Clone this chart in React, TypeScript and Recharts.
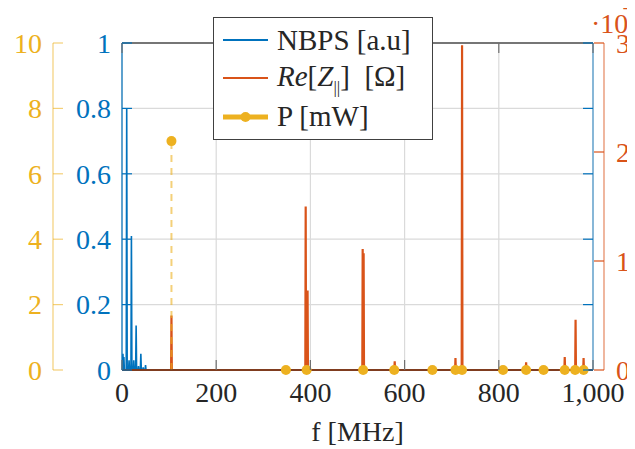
import { ComposedChart, Line, XAxis, YAxis, CartesianGrid, ReferenceLine, Legend } from "recharts";

const FONT = "Liberation Serif, DejaVu Serif, serif";
const BLUE = "#0072BD";
const ORANGE = "#D95319";
const YELLOW = "#EDB120";
const TEXT = "#262626";
const FS = 28;

const freqTicks = [0, 200, 400, 600, 800, 1000];
const nbpsTicks = [0, 0.2, 0.4, 0.6, 0.8, 1];
const powerTicks = [0, 2, 4, 6, 8, 10];
const impTicks = [0, 10000, 20000, 30000];

// NBPS spectrum lines [MHz] / [a.u]
const nbpsFreq = [2, 4, 10, 15, 20, 25, 30, 35, 40, 45, 50];
const nbpsVal = [0.05, 0.04, 0.8, 0.03, 0.41, 0.03, 0.136, 0.012, 0.05, 0.008, 0.015];

// Re[Z||] resonances [MHz] / [Ohm]
const zFreq = [105, 390, 394, 511, 513, 579, 708, 722, 858, 940, 963, 980];
const zVal = [5000, 15000, 7300, 11100, 10700, 800, 1100, 29800, 700, 1200, 4600, 1100];

// power loss [MHz] / [mW]
const pFreq = [105, 348, 392, 512, 578, 659, 708, 722, 809, 858, 895, 940, 962, 980];
const pVal = [7, 0, 0, 0, 0, 0, 0, 0, 0, 0, 0, 0, 0, 0];

function spikes(freqs: number[], vals: number[], hw: number) {
  const pts = [{ f: 0, v: 0 }];
  freqs.forEach((f, i) => {
    pts.push({ f: f - hw, v: 0 }, { f, v: vals[i] }, { f: f + hw, v: 0 });
  });
  pts.push({ f: 1000, v: 0 });
  return pts;
}

const nbpsData = spikes(nbpsFreq, nbpsVal, 1);
const zData = spikes(zFreq, zVal, 0.8);
const pData = pFreq.map((f, i) => ({ f, v: pVal[i] }));

const yTick =
  (side: "left" | "right", margin: number, color: string, lineColor: string, fmt: ((v: number) => string) | null) =>
  (props: any) => {
    const { x, y, payload } = props;
    const axisX = side === "left" ? x + margin : x - margin;
    const dir = side === "left" ? 1 : -1;
    return (
      <g>
        <line x1={axisX} x2={axisX + dir * 10} y1={y} y2={y} stroke={lineColor} strokeWidth={1.2} />
        {fmt && (
          <text x={x} y={y} dy="0.35em" textAnchor={side === "left" ? "end" : "start"} fill={color} fontSize={FS} fontFamily={FONT}>
            {fmt(payload.value)}
          </text>
        )}
      </g>
    );
  };

const xTick = (pos: "bottom" | "top", margin: number) => (props: any) => {
  const { x, y, payload } = props;
  const axisY = pos === "bottom" ? y - margin : y + margin;
  const dir = pos === "bottom" ? -1 : 1;
  return (
    <g>
      <line x1={x} x2={x} y1={axisY} y2={axisY + dir * 10} stroke="#707070" strokeWidth={1.2} />
      {pos === "bottom" && (
        <text x={x} y={y} dy="0.71em" textAnchor="middle" fill={TEXT} fontSize={FS} fontFamily={FONT}>
          {payload.value.toLocaleString("en-US")}
        </text>
      )}
    </g>
  );
};

const tenPow = (props: any) => {
  const { viewBox } = props;
  return (
    <text x={viewBox.x - 13} y={viewBox.y - 10} fill={ORANGE} fontSize={FS} fontFamily={FONT}>
      ·10
      <tspan x={viewBox.x + 19} y={viewBox.y - 31} fontSize={19}>4</tspan>
    </text>
  );
};

const LegendBox = () => {
  const row = { display: "flex", alignItems: "center", height: 38.3 } as const;
  return (
    <div
      style={{
        width: 220,
        height: 123,
        boxSizing: "border-box",
        border: "1.5px solid #404040",
        background: "#fff",
        fontFamily: FONT,
        fontSize: 29,
        color: TEXT,
        padding: "3px 0 0 9px",
        lineHeight: 1,
        whiteSpace: "nowrap",
      }}
    >
      <div style={row}>
        <svg width={45} height={12}><line x1={0} x2={45} y1={6} y2={6} stroke={BLUE} strokeWidth={2} /></svg>
        <span style={{ marginLeft: 9 }}>NBPS [a.u]</span>
      </div>
      <div style={row}>
        <svg width={45} height={12}><line x1={0} x2={45} y1={6} y2={6} stroke={ORANGE} strokeWidth={2} /></svg>
        <span style={{ marginLeft: 9 }}>
          <i>Re</i>[<i>Z</i><sub style={{ fontSize: 17 }}>||</sub>] &nbsp;[Ω]
        </span>
      </div>
      <div style={row}>
        <svg width={45} height={14}>
          <line x1={0} x2={45} y1={7} y2={7} stroke={YELLOW} strokeWidth={5} />
          <circle cx={22.5} cy={7} r={5} fill={YELLOW} />
        </svg>
        <span style={{ marginLeft: 9 }}>P [mW]</span>
      </div>
    </div>
  );
};

export default function App() {
  return (
    <div style={{ margin: "-8px 0 0 -8px", width: 635, height: 449, background: "#fff" }}>
      <ComposedChart width={635} height={449} margin={{ top: 42, right: 0, bottom: 0, left: 0 }}>
        <CartesianGrid yAxisId="n" stroke="#dadada" strokeWidth={1.2} />
        <XAxis
          dataKey="f"
          type="number"
          domain={[0, 1000]}
          ticks={freqTicks}
          interval={0}
          height={79}
          tickSize={0}
          tickMargin={12}
          tickLine={false}
          tick={xTick("bottom", 12)}
          axisLine={{ stroke: TEXT }}
          label={{ value: "f [MHz]", position: "insideBottom", offset: 8, fill: TEXT, fontSize: FS, fontFamily: FONT }}
        />
        <XAxis
          xAxisId="top"
          orientation="top"
          dataKey="f"
          type="number"
          domain={[0, 1000]}
          allowDataOverflow
          ticks={freqTicks}
          interval={0}
          height={1}
          tickSize={0}
          tickMargin={0}
          tickLine={false}
          tick={xTick("top", 0)}
          axisLine={{ stroke: "#000" }}
        />
        <YAxis
          yAxisId="n"
          width={69}
          type="number"
          domain={[0, 1]}
          ticks={nbpsTicks}
          interval={0}
          tickSize={0}
          tickMargin={11}
          tickLine={false}
          tick={yTick("left", 11, BLUE, BLUE, (v) => String(v))}
          axisLine={{ stroke: BLUE, strokeWidth: 1.2 }}
        />
        <YAxis
          yAxisId="p"
          width={53}
          type="number"
          domain={[0, 10]}
          ticks={powerTicks}
          interval={0}
          tickSize={0}
          tickMargin={11}
          tickLine={false}
          tick={yTick("left", 11, YELLOW, "rgba(237,177,32,0.6)", (v) => String(v))}
          axisLine={{ stroke: YELLOW, strokeOpacity: 0.6, strokeWidth: 1.2 }}
        />
        <YAxis
          yAxisId="nr"
          orientation="right"
          width={11}
          type="number"
          domain={[0, 1]}
          allowDataOverflow
          ticks={nbpsTicks}
          interval={0}
          tickSize={0}
          tickMargin={0}
          tickLine={false}
          tick={yTick("right", 0, BLUE, BLUE, null)}
          axisLine={{ stroke: BLUE, strokeOpacity: 0.7, strokeWidth: 1.2 }}
        />
        <YAxis
          yAxisId="z"
          orientation="right"
          width={31}
          type="number"
          domain={[0, 30000]}
          ticks={impTicks}
          interval={0}
          tickSize={0}
          tickMargin={12}
          tickLine={false}
          tick={yTick("right", 12, ORANGE, ORANGE, (v) => String(v / 10000))}
          axisLine={{ stroke: ORANGE, strokeOpacity: 0.7, strokeWidth: 1.2 }}
          label={{ content: tenPow }}
        />
        <Line yAxisId="n" data={nbpsData} dataKey="v" stroke={BLUE} strokeWidth={1.6} dot={false} isAnimationActive={false} />
        <Line yAxisId="z" data={zData} dataKey="v" stroke={ORANGE} strokeWidth={2.2} dot={false} isAnimationActive={false} />
        {pData
          .filter((d) => d.v > 0)
          .map((d) => (
            <ReferenceLine
              key={d.f}
              yAxisId="p"
              segment={[{ x: d.f, y: 0 }, { x: d.f, y: d.v }]}
              stroke={YELLOW}
              strokeOpacity={0.6}
              strokeWidth={2}
              strokeDasharray="7 6"
            />
          ))}
        <Line
          yAxisId="p"
          data={pData}
          dataKey="v"
          stroke="none"
          dot={{ r: 5, fill: YELLOW, stroke: "none" }}
          isAnimationActive={false}
        />
        <Legend
          content={LegendBox}
          layout="horizontal"
          verticalAlign="middle"
          align="center"
          wrapperStyle={{ left: 213, top: 17, width: 220, height: 123 }}
        />
      </ComposedChart>
    </div>
  );
}
